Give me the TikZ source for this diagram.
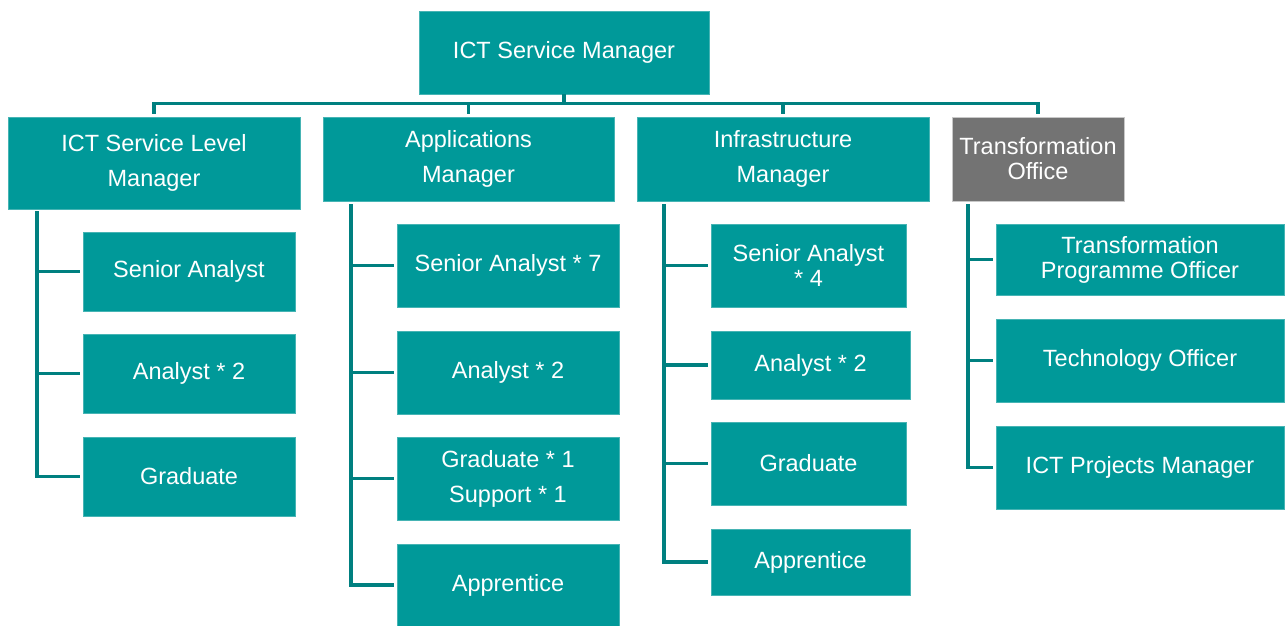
\documentclass[tikz,border=0pt]{standalone}
\usepackage{fontspec}
\setmainfont{Liberation Sans}
\usetikzlibrary{calc}
\definecolor{teal1}{RGB}{0,153,153}
\definecolor{tealedge}{RGB}{70,180,180}
\definecolor{tealline}{RGB}{0,128,128}
\definecolor{grayfill}{RGB}{115,115,115}
\definecolor{grayedge}{RGB}{200,200,200}
\begin{document}
\begin{tikzpicture}[x=1pt,y=-1pt,
  box/.style={rectangle, fill=teal1, draw=tealedge, line width=0.8pt, inner sep=0pt,
    text=white, align=center, font=\fontsize{23.5}{35}\selectfont},
  tight/.style={font=\fontsize{23.5}{25}\selectfont},
  graybox/.style={box, fill=grayfill, draw=grayedge},
  conn/.style={draw=tealline, line width=3.5pt, line cap=rect}]
\useasboundingbox (0,0) rectangle (1288,626);
% top
\node[box, minimum width=290pt, minimum height=83pt] (top) at (564,52.5) {ICT Service Manager};
% level 1
\node[box, minimum width=292pt, minimum height=92pt] (L1) at (154,163) {ICT Service Level\\Manager};
\node[box, minimum width=291pt, minimum height=84pt] (L2) at (468.5,159) {Applications\\Manager};
\node[box, minimum width=292pt, minimum height=84pt] (L3) at (783,159) {Infrastructure\\Manager};
\node[graybox, tight, minimum width=172pt, minimum height=84pt] (L4) at (1038,159) {Transformation\\Office};
% column 1
\node[box, minimum width=212pt, minimum height=79pt] (a1) at (189,271.5) {Senior Analyst};
\node[box, minimum width=212pt, minimum height=79pt] (a2) at (189,373.5) {Analyst * 2};
\node[box, minimum width=212pt, minimum height=79pt] (a3) at (189,476.5) {Graduate};
% column 2
\node[box, minimum width=222pt, minimum height=83pt] (b1) at (508,265.5) {Senior Analyst * 7};
\node[box, minimum width=222pt, minimum height=83pt] (b2) at (508,372.5) {Analyst * 2};
\node[box, minimum width=222pt, minimum height=83pt] (b3) at (508,478.5) {Graduate * 1\\Support * 1};
\node[box, minimum width=222pt, minimum height=82pt] (b4) at (508,585) {Apprentice};
% column 3
\node[box, tight, minimum width=195pt, minimum height=83pt] (c1) at (808.5,265.5) {Senior Analyst\\* 4};
\node[box, minimum width=199pt, minimum height=68pt] (c2) at (810.5,365) {Analyst * 2};
\node[box, minimum width=195pt, minimum height=83pt] (c3) at (808.5,463.5) {Graduate};
\node[box, minimum width=199pt, minimum height=66pt] (c4) at (810.5,562) {Apprentice};
% column 4
\node[box, tight, minimum width=288pt, minimum height=71pt] (d1) at (1140,259.5) {Transformation\\Programme Officer};
\node[box, minimum width=288pt, minimum height=83pt] (d2) at (1140,360.5) {Technology Officer};
\node[box, minimum width=288pt, minimum height=83pt] (d3) at (1140,467.5) {ICT Projects Manager};
% top connectors
\draw[conn, line cap=butt] (top.south) -- ++(0,10);
\draw[conn] ($(L1.north)+(0,-4)$) -- ($(L1.north)+(0,-13)$) -| ($(L4.north)+(0,-4)$);
\draw[conn] ($(L2.north)+(0,-4)$) -- ++(0,-9);
\draw[conn] ($(L3.north)+(0,-4)$) -- ++(0,-9);
% spines
\coordinate (s1) at (37,213);
\coordinate (s2) at (351,206);
\coordinate (s3) at (664,206);
\coordinate (s4) at (968,206);
\draw[conn] (s1) |- ($(a3.west)+(-4,0)$);
\draw[conn] (s1 |- a1.west) -- ($(a1.west)+(-4,0)$);
\draw[conn] (s1 |- a2.west) -- ($(a2.west)+(-4,0)$);
\draw[conn] (s2) |- ($(b4.west)+(-4,0)$);
\draw[conn] (s2 |- b1.west) -- ($(b1.west)+(-4,0)$);
\draw[conn] (s2 |- b2.west) -- ($(b2.west)+(-4,0)$);
\draw[conn] (s2 |- b3.west) -- ($(b3.west)+(-4,0)$);
\draw[conn] (s3) |- ($(c4.west)+(-4,0)$);
\draw[conn] (s3 |- c1.west) -- ($(c1.west)+(-4,0)$);
\draw[conn] (s3 |- c2.west) -- ($(c2.west)+(-4,0)$);
\draw[conn] (s3 |- c3.west) -- ($(c3.west)+(-4,0)$);
\draw[conn] (s4) |- ($(d3.west)+(-4,0)$);
\draw[conn] (s4 |- d1.west) -- ($(d1.west)+(-4,0)$);
\draw[conn] (s4 |- d2.west) -- ($(d2.west)+(-4,0)$);
\end{tikzpicture}
\end{document}
